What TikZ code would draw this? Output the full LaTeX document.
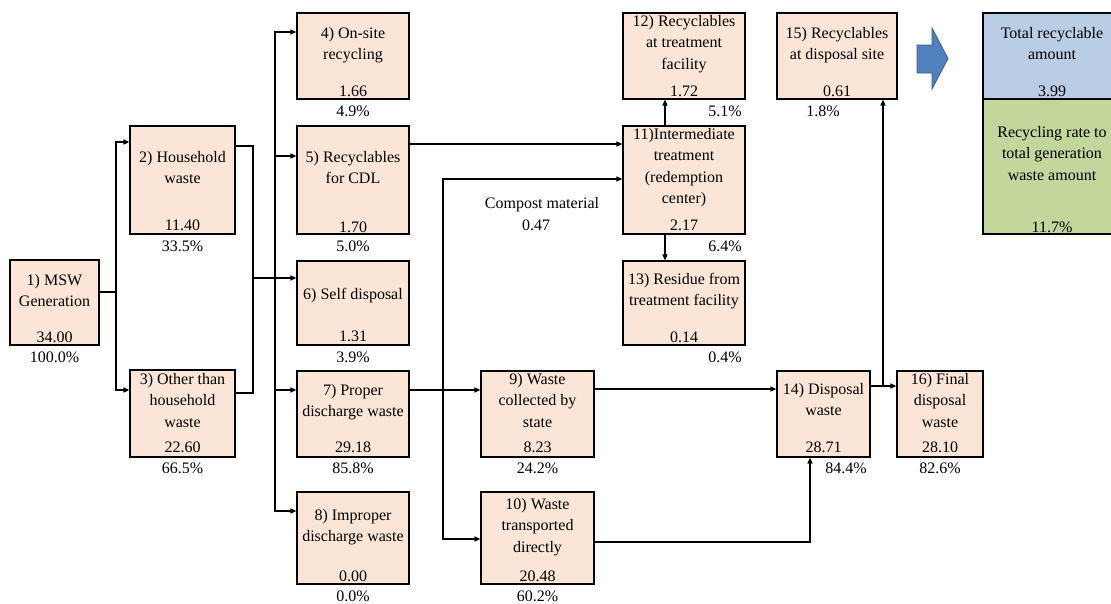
\documentclass[tikz,border=0pt]{standalone}
\usepackage{fontspec}
\setmainfont{Liberation Serif}
\usetikzlibrary{arrows.meta}
\definecolor{peach}{HTML}{FBE5D6}
\definecolor{sumblue}{HTML}{B9CDE5}
\definecolor{sumgreen}{HTML}{C3D69B}
\definecolor{bigarrow}{HTML}{4F81BD}
\definecolor{bigarrowline}{HTML}{385D8A}
\newcommand\flowfont{\fontsize{16}{21.5}\selectfont}
\begin{document}
\begin{tikzpicture}[x=1pt,y=-1pt,
  box/.style={draw, line width=1.1pt, fill=peach, inner sep=0pt},
  ttl/.style={anchor=north, align=center, inner sep=0pt, font=\flowfont, execute at begin node=\strut},
  val/.style={anchor=base, inner sep=0pt, font=\flowfont},
  pct/.style={anchor=base, inner sep=0pt, font=\flowfont},
  ln/.style={line width=1.4pt},
  arr/.style={line width=1.4pt, -{Triangle[length=6pt,width=5pt]}}]
\useasboundingbox (0,0) rectangle (1111,603);

% flow boxes
\node[box, minimum width=89pt,  minimum height=85pt]  (n1)  at (54.5,302.5) {};
\node[box, minimum width=105pt, minimum height=108pt] (n2)  at (182.5,180) {};
\node[box, minimum width=105pt, minimum height=87pt]  (n3)  at (182.5,413.5) {};
\node[box, minimum width=112pt, minimum height=86pt]  (n4)  at (353,56) {};
\node[box, minimum width=112pt, minimum height=108pt] (n5)  at (353,180) {};
\node[box, minimum width=112pt, minimum height=84pt]  (n6)  at (353,303) {};
\node[box, minimum width=112pt, minimum height=86pt]  (n7)  at (353,414) {};
\node[box, minimum width=112pt, minimum height=92pt]  (n8)  at (353,538) {};
\node[box, minimum width=113pt, minimum height=86pt]  (n9)  at (537.5,414) {};
\node[box, minimum width=113pt, minimum height=92pt]  (n10) at (537.5,538) {};
\node[box, minimum width=122pt, minimum height=108pt] (n11) at (684,180) {};
\node[box, minimum width=122pt, minimum height=86pt]  (n12) at (684,56) {};
\node[box, minimum width=122pt, minimum height=84pt]  (n13) at (684,303) {};
\node[box, minimum width=93pt,  minimum height=86pt]  (n14) at (823.5,414) {};
\node[box, minimum width=120pt, minimum height=86pt]  (n15) at (837,56) {};
\node[box, minimum width=86pt,  minimum height=86pt]  (n16) at (940,414) {};
\node[box, fill=sumblue,  minimum width=138pt, minimum height=86pt]  (tot)  at (1052,56) {};
\node[box, fill=sumgreen, minimum width=138pt, minimum height=135pt] (rate) at (1052,166.5) {};

% titles
\node[ttl] (t1)  at (54.5,274)  {1) MSW\\Generation};
\node[ttl] (t2)  at (182.5,151) {2) Household\\waste};
\node[ttl] (t3)  at (182.5,373) {3) Other than\\household\\waste};
\node[ttl] (t4)  at (353,27)    {4) On-site\\recycling};
\node[ttl] (t5)  at (353,151)   {5) Recyclables\\for CDL};
\node[ttl] (t6)  at (353,284)   {6) Self disposal};
\node[ttl] (t7)  at (353,384)   {7) Proper\\discharge waste};
\node[ttl] (t8)  at (353,509)   {8) Improper\\discharge waste};
\node[ttl] (t9)  at (537.5,373) {9) Waste\\collected by\\state};
\node[ttl] (t10) at (537.5,498) {10) Waste\\transported\\directly};
\node[ttl] (t11) at (684,128)   {11)Intermediate\\treatment\\(redemption\\center)};
\node[ttl] (t12) at (684,15)    {12) Recyclables\\at treatment\\facility};
\node[ttl] (t13) at (684,273)   {13) Residue from\\treatment facility};
\node[ttl] (t14) at (823.5,383) {14) Disposal\\waste};
\node[ttl] (t15) at (837,27)    {15) Recyclables\\at disposal site};
\node[ttl] (t16) at (940,373)   {16) Final\\disposal\\waste};
\node[ttl] (ttot)  at (1052,27)  {Total recyclable\\amount};
\node[ttl] (trate) at (1052,126) {Recycling rate to\\total generation\\waste amount};

% amounts
\node[val] (v1)  at (54.5,342)  {34.00};
\node[val] (v2)  at (182.5,230) {11.40};
\node[val] (v3)  at (182.5,452) {22.60};
\node[val] (v4)  at (353,96)    {1.66};
\node[val] (v5)  at (353,232)   {1.70};
\node[val] (v6)  at (353,341)   {1.31};
\node[val] (v7)  at (353,452)   {29.18};
\node[val] (v8)  at (353,581)   {0.00};
\node[val] (v9)  at (537.5,452) {8.23};
\node[val] (v10) at (537.5,581) {20.48};
\node[val] (v11) at (684,230)   {2.17};
\node[val] (v12) at (684,96)    {1.72};
\node[val] (v13) at (684,342)   {0.14};
\node[val] (v14) at (823.5,452) {28.71};
\node[val] (v15) at (837,96)    {0.61};
\node[val] (v16) at (940,452)   {28.10};
\node[val] (vtot)  at (1052,96)  {3.99};
\node[val] (vrate) at (1052,232) {11.7\%};

% shares of generation
\node[pct] (p1)  at (54.5,362)  {100.0\%};
\node[pct] (p2)  at (182.5,251) {33.5\%};
\node[pct] (p3)  at (182.5,473) {66.5\%};
\node[pct] (p4)  at (353,116)   {4.9\%};
\node[pct] (p5)  at (353,251)   {5.0\%};
\node[pct] (p6)  at (353,362)   {3.9\%};
\node[pct] (p7)  at (353,473)   {85.8\%};
\node[pct] (p8)  at (353,601)   {0.0\%};
\node[pct] (p9)  at (537.5,473) {24.2\%};
\node[pct] (p10) at (537.5,601) {60.2\%};
\node[pct, anchor=base east] (p11) at (742,251) {6.4\%};
\node[pct, anchor=base east] (p12) at (742,116) {5.1\%};
\node[pct, anchor=base east] (p13) at (742,362) {0.4\%};
\node[pct] (p14) at (846,473)   {84.4\%};
\node[pct] (p15) at (823,116)   {1.8\%};
\node[pct] (p16) at (940,473)   {82.6\%};

% compost label
\node[val] (cm)  at (542,208) {Compost material};
\node[val] (cmv) at (536,230) {0.47};

% junctions
\coordinate (s1) at (116,292);
\coordinate (s2) at (253,278);
\coordinate (tr) at (275,278);
\coordinate (s3) at (443,390);
\coordinate (s4) at (883,386);

% connectors
\draw[ln]  (n1.east |- s1) -- (s1);
\draw[arr] (s1) |- (n2.west |- 0,142);
\draw[arr] (s1) |- (n3.west |- 0,390);
\draw[ln]  (n2.east |- 0,146) -| (s2);
\draw[ln]  (n3.east |- 0,393) -| (s2);
\draw[arr] (s2) -- (n6.west |- s2);
\draw[arr] (tr) |- (n4.west |- 0,32);
\draw[arr] (tr) |- (n5.west |- 0,156);
\draw[arr] (tr) |- (n7.west |- 0,390);
\draw[arr] (tr) |- (n8.west |- 0,511);
\draw[arr] (n5.east |- 0,144) -- (n11.west |- 0,144);
\draw[arr] (n7.east |- 0,390) -- (n9.west |- 0,390);
\draw[arr] (s3) |- (n11.west |- 0,179);
\draw[arr] (s3) |- (n10.west |- 0,539);
\draw[arr] (n11.north -| 665,0) -- (n12.south -| 665,0);
\draw[arr] (n11.south -| 665,0) -- (n13.north -| 665,0);
\draw[arr] (n9.east |- 0,389) -- (n14.west |- 0,389);
\draw[arr] (n10.east |- 0,542) -| (n14.south -| 810,0);
\draw[arr] (n14.east |- s4) -- (n16.west |- s4);
\draw[arr] (s4) -- (n15.south -| s4);

% block arrow toward the summary
\draw[fill=bigarrow, draw=bigarrowline, line width=0.8pt]
  (917,45) -- (932,45) -- (932,28) -- (948,58.5) -- (932,89) -- (932,73) -- (917,73) -- cycle;
\end{tikzpicture}
\end{document}
